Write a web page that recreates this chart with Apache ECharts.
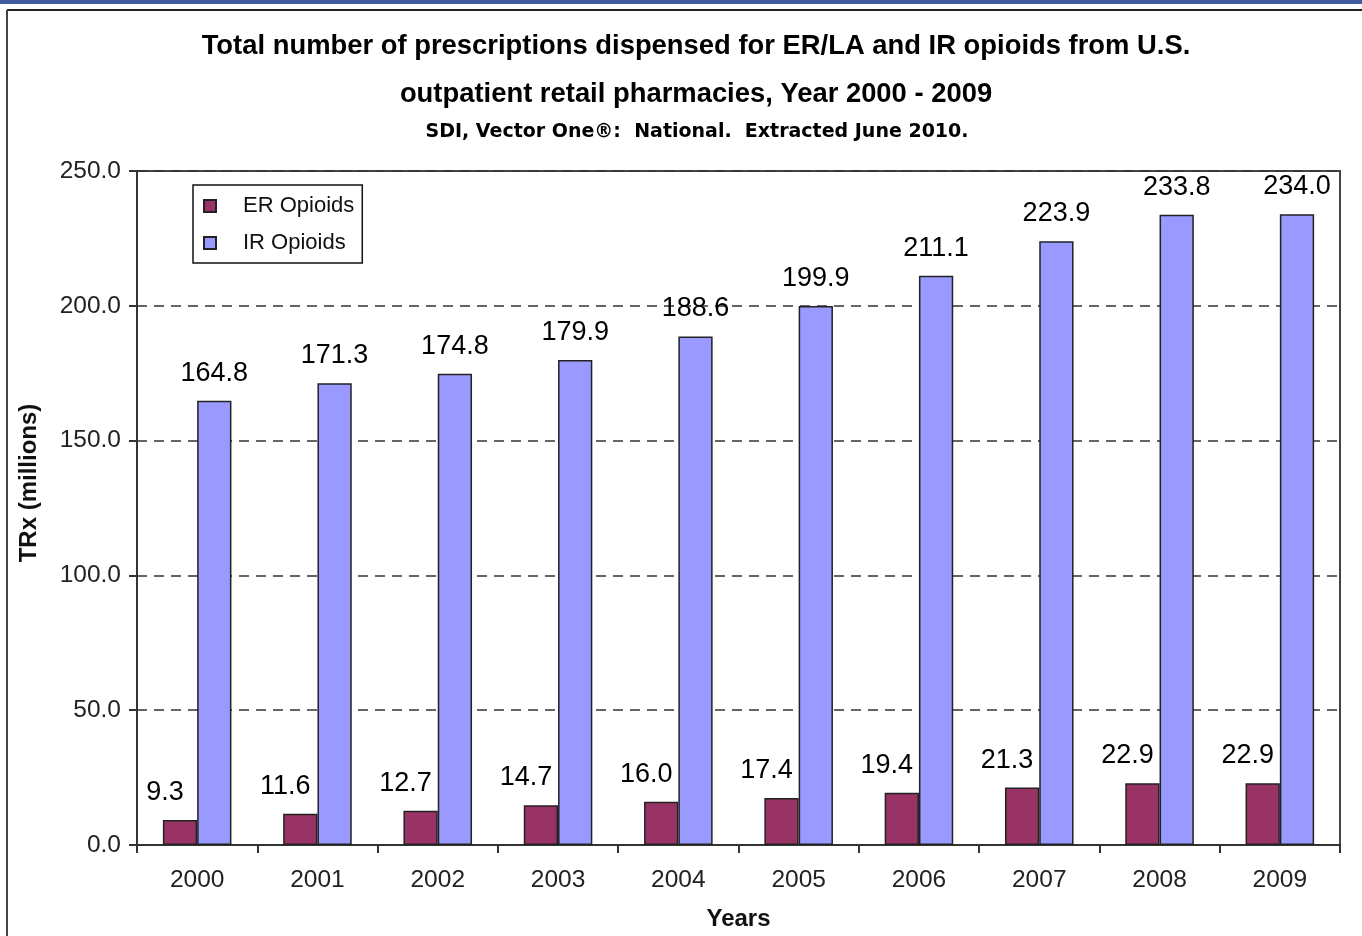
<!DOCTYPE html>
<html><head><meta charset="utf-8">
<script src="https://cdn.jsdelivr.net/npm/echarts@6/dist/echarts.min.js"></script>
<style>html,body{margin:0;padding:0;background:#fff}#c{width:1362px;height:936px}</style>
</head><body><div id="c"></div>
<script>
const years = ['2000','2001','2002','2003','2004','2005','2006','2007','2008','2009'];
const erOpioids = [9.3, 11.6, 12.7, 14.7, 16.0, 17.4, 19.4, 21.3, 22.9, 22.9];
const irOpioids = [164.8, 171.3, 174.8, 179.9, 188.6, 199.9, 211.1, 223.9, 233.8, 234.0];
const seriesNames = ['ER Opioids', 'IR Opioids'];

const FONT = '"Liberation Sans", Arial, sans-serif';
const VFONT = '"DejaVu Sans", Verdana, sans-serif';
const chart = echarts.init(document.getElementById('c'));
chart.setOption({
  animation: false,
  textStyle: { fontFamily: FONT },
  title: [
    { text: 'Total number of prescriptions dispensed for ER/LA and IR opioids from U.S.', left: 691, textAlign: 'center', top: 28,
      textStyle: { fontSize: 27.4, fontWeight: 'bold', color: '#000', fontFamily: FONT } },
    { text: 'outpatient retail pharmacies, Year 2000 - 2009', left: 691, textAlign: 'center', top: 76,
      textStyle: { fontSize: 27.4, fontWeight: 'bold', color: '#000', fontFamily: FONT } },
    { text: 'SDI, Vector One\u00AE:  National.  Extracted June 2010.', left: 692, textAlign: 'center', top: 118,
      textStyle: { fontSize: 19, fontWeight: 'bold', color: '#000', fontFamily: VFONT } }
  ],
  graphic: [
    { type: 'rect', shape: { x: 0, y: 0, width: 1362, height: 4 }, style: { fill: '#3d5c9e' } },
    { type: 'line', shape: { x1: 7, y1: 10, x2: 1362, y2: 10 }, style: { stroke: '#222', lineWidth: 2 } },
    { type: 'line', shape: { x1: 7, y1: 10, x2: 7, y2: 936 }, style: { stroke: '#444', lineWidth: 2 } }
  ],
  legend: {
    data: seriesNames, orient: 'vertical', left: 193, top: 185,
    borderColor: '#111', borderWidth: 1.5, padding: [10, 8, 9, 10], itemGap: 15,
    itemWidth: 12, itemHeight: 12, icon: 'rect',
    textStyle: { fontSize: 22, color: '#111', padding: [0, 0, 0, 22], fontFamily: FONT }
  },
  grid: { left: 137, right: 22, top: 171, bottom: 91, show: true, borderColor: '#444', borderWidth: 2,
    outerBoundsMode: 'none', containLabel: false },
  xAxis: {
    type: 'category', data: years, name: 'Years', nameLocation: 'middle', nameGap: 62,
    nameTextStyle: { fontSize: 24, fontWeight: 'bold', color: '#111', fontFamily: FONT },
    axisLine: { lineStyle: { color: '#333', width: 2 } },
    axisTick: { show: true, length: 8, lineStyle: { color: '#333', width: 2 } },
    axisLabel: { fontSize: 24.5, color: '#222', margin: 23, fontFamily: FONT }
  },
  yAxis: {
    type: 'value', min: 0, max: 250, interval: 50,
    name: 'TRx (millions)', nameLocation: 'middle', nameGap: 96, nameRotate: 90,
    nameTextStyle: { fontSize: 24, fontWeight: 'bold', color: '#111', fontFamily: FONT, padding: [0, 0, 0, 50] },
    axisLine: { show: true, lineStyle: { color: '#333', width: 2 } },
    axisTick: { show: true, length: 8, lineStyle: { color: '#333', width: 2 } },
    axisLabel: { fontSize: 24.5, color: '#222', margin: 16, formatter: v => v.toFixed(1), fontFamily: FONT },
    splitLine: { lineStyle: { color: '#333', type: [10, 7], width: 1.5 } }
  },
  series: [
    { name: seriesNames[0], type: 'bar', data: erOpioids, barGap: '0%', barCategoryGap: '43%',
      itemStyle: { color: '#993366', borderColor: '#222', borderWidth: 1.5 },
      label: { show: true, position: 'top', distance: 14, offset: [-15, 0], fontSize: 27, color: '#000',
        formatter: p => p.value.toFixed(1), fontFamily: FONT } },
    { name: seriesNames[1], type: 'bar', data: irOpioids, barGap: '0%', barCategoryGap: '43%',
      itemStyle: { color: '#9999FF', borderColor: '#222', borderWidth: 1.5 },
      label: { show: true, position: 'top', distance: 14, fontSize: 27, color: '#000',
        formatter: p => p.value.toFixed(1), fontFamily: FONT } }
  ]
});
</script></body></html>
